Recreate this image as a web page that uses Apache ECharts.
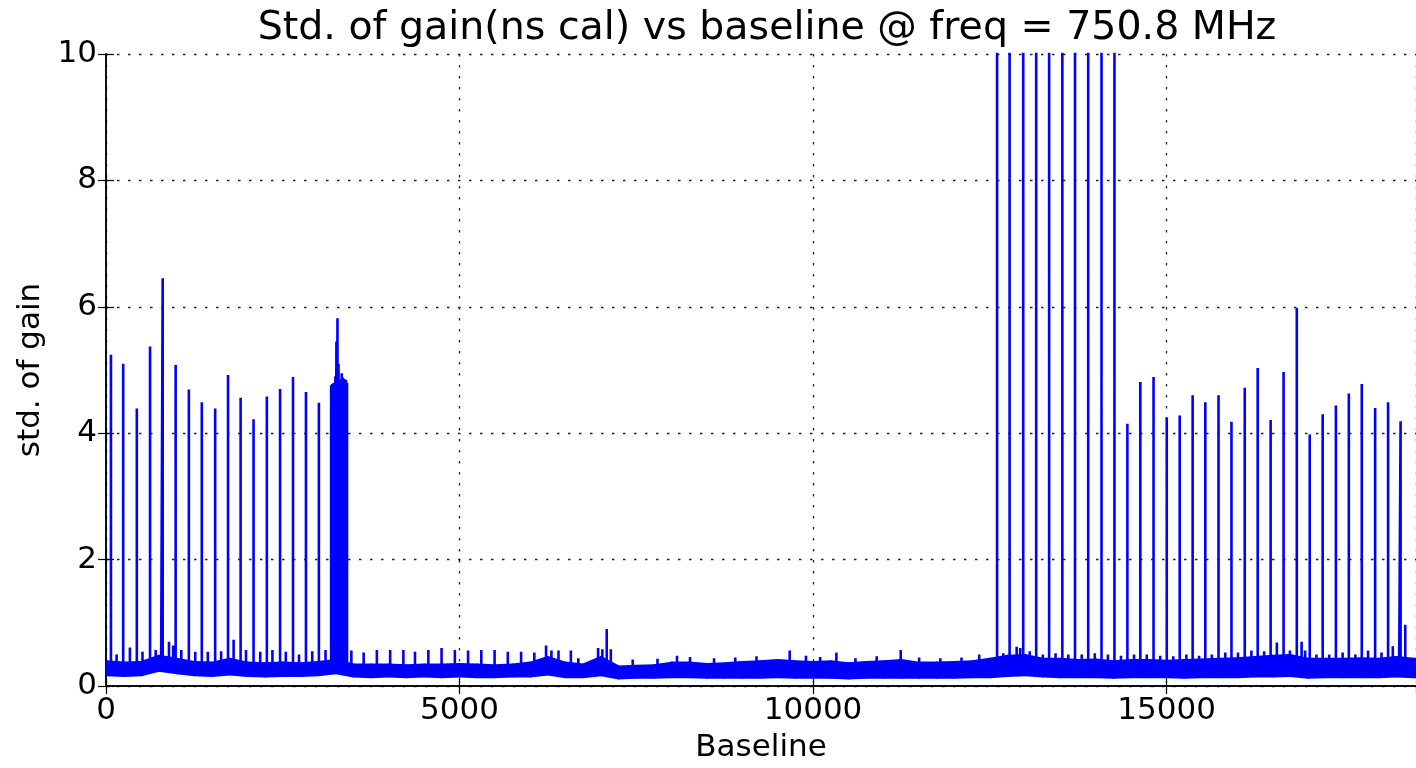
<!DOCTYPE html>
<html>
<head>
<meta charset="utf-8">
<script src="https://cdn.jsdelivr.net/npm/echarts@6.0.0/dist/echarts.min.js"></script>
<style>
  html, body { margin: 0; padding: 0; background: #fff; }
  #chart { width: 1416px; height: 768px; }
</style>
</head>
<body>
<div id="chart"></div>
<script>
// ---- labels ----
const titleText = 'Std. of gain(ns cal) vs baseline @ freq = 750.8 MHz';
const xName = 'Baseline';
const yName = 'std. of gain';
const baselineCount = 18528;
const xTickStep = 5000;
const yTickStep = 2;
const yTop = 10;

// ---- noise floor envelope, one sample every 250 baselines ----
const bandStep = 250;
const bandLow = [
  0.17, 0.16, 0.17, 0.24, 0.20, 0.17, 0.16, 0.18, 0.16, 0.15,
  0.16, 0.16, 0.17, 0.20, 0.15, 0.14, 0.15, 0.14, 0.15, 0.14,
  0.15, 0.14, 0.14, 0.15, 0.15, 0.18, 0.14, 0.14, 0.17, 0.12,
  0.13, 0.13, 0.14, 0.14, 0.13, 0.13, 0.13, 0.13, 0.14, 0.13,
  0.13, 0.13, 0.12, 0.13, 0.13, 0.13, 0.13, 0.13, 0.13, 0.14,
  0.14, 0.16, 0.17, 0.15, 0.14, 0.14, 0.14, 0.13, 0.14, 0.14,
  0.14, 0.13, 0.14, 0.14, 0.14, 0.15, 0.15, 0.16, 0.13, 0.14,
  0.14, 0.14, 0.14, 0.15, 0.14, 0.14
];
const bandHigh = [
  0.39, 0.37, 0.38, 0.48, 0.43, 0.38, 0.37, 0.43, 0.37, 0.36,
  0.37, 0.36, 0.38, 0.41, 0.34, 0.34, 0.34, 0.33, 0.34, 0.34,
  0.35, 0.34, 0.33, 0.34, 0.37, 0.46, 0.37, 0.34, 0.46, 0.31,
  0.32, 0.33, 0.37, 0.37, 0.35, 0.36, 0.38, 0.39, 0.41, 0.39,
  0.38, 0.39, 0.36, 0.38, 0.39, 0.41, 0.37, 0.37, 0.38, 0.39,
  0.43, 0.48, 0.49, 0.43, 0.43, 0.41, 0.42, 0.39, 0.41, 0.41,
  0.40, 0.41, 0.42, 0.43, 0.44, 0.46, 0.48, 0.49, 0.43, 0.43,
  0.43, 0.44, 0.43, 0.46, 0.43, 0.43
];

// ---- large spikes (those above the frame run off the top) ----
const spikeX = [
  70, 243, 436, 623, 802, 985, 1172, 1355, 1544, 1726, 1904, 2087, 2275, 2462, 2645, 2828, 3011,
  12603, 12780, 12973, 13156, 13339, 13526, 13705, 13892, 14080, 14263,
  14446, 14629, 14816, 15003, 15186, 15369, 15548, 15735, 15918, 16106, 16289,
  16472, 16655, 16842, 17025, 17208, 17395, 17578, 17761, 17950, 18133, 18310, 18376
];
const spikeY = [
  5.24, 5.10, 4.39, 5.37, 6.45, 5.08, 4.69, 4.49, 4.39, 4.92, 4.56, 4.22, 4.58, 4.70, 4.89, 4.65, 4.48,
  12, 12, 12, 12, 12, 12, 12, 12, 12, 12,
  4.15, 4.81, 4.89, 4.25, 4.28, 4.60, 4.49, 4.60, 4.18, 4.72, 5.03,
  4.21, 4.97, 5.98, 3.98, 4.30, 4.44, 4.63, 4.78, 4.40, 4.49, 4.19, 0.97
];

// ---- dense burst near baseline 3300 ----
const burstX = [3184, 3199, 3214, 3229, 3244, 3259, 3274, 3289, 3304, 3319, 3334, 3349, 3364, 3379, 3394, 3409];
const burstY = [4.76, 4.78, 4.79, 4.80, 4.90, 5.45, 5.82, 5.10, 4.82, 4.85, 4.95, 4.88, 4.86, 4.85, 4.84, 4.80];

// ---- small excursions above the noise floor ----
const bumpX = [
  150, 338, 516, 703, 780, 891, 950, 1065, 1262, 1440, 1628, 1805, 1980, 2181, 2354, 2543, 2730, 2917, 3105,
  3470, 3644, 3831, 4019, 4206, 4370, 4559, 4746, 4934, 5121, 5308, 5496, 5683, 5871, 6058,
  6224, 6300, 6400, 6575, 6680, 6960, 7020, 7082, 7140, 7450, 7800, 8076, 8260, 8600, 8900,
  9200, 9670, 9900, 10100, 10330, 10600, 10900, 11240, 11500, 11800, 12100, 12350,
  12690, 12880, 12930, 13065, 13250, 13430, 13610, 13800, 13985, 14170, 14355, 14540, 14720,
  14910, 15095, 15280, 15460, 15640, 15830, 16010, 16200, 16380, 16560, 16745, 16910, 16960,
  17120, 17300, 17490, 17670, 17850, 18040, 18200, 18290
];
const bumpY = [
  0.50, 0.61, 0.54, 0.57, 0.62, 0.70, 0.64, 0.57, 0.54, 0.54, 0.55, 0.73, 0.57, 0.54, 0.57, 0.54, 0.50, 0.55, 0.57,
  0.56, 0.53, 0.57, 0.57, 0.57, 0.54, 0.57, 0.60, 0.57, 0.56, 0.57, 0.57, 0.54, 0.54, 0.53,
  0.64, 0.56, 0.56, 0.56, 0.44, 0.60, 0.58, 0.90, 0.58, 0.42, 0.43, 0.48, 0.46, 0.44, 0.45,
  0.47, 0.56, 0.48, 0.46, 0.53, 0.44, 0.47, 0.57, 0.45, 0.44, 0.45, 0.50,
  0.52, 0.62, 0.60, 0.55, 0.50, 0.52, 0.50, 0.50, 0.52, 0.50, 0.48, 0.50, 0.50,
  0.48, 0.47, 0.50, 0.48, 0.50, 0.53, 0.53, 0.56, 0.55, 0.69, 0.56, 0.70, 0.56,
  0.50, 0.50, 0.53, 0.50, 0.56, 0.53, 0.63, 0.63
];

// ---- build series data ----
const bandData = bandLow.map((lo, i) => [i * bandStep, lo, bandHigh[i]]);

function floorAt(x) {
  const i = Math.min(bandLow.length - 1, Math.round(x / bandStep));
  return (bandLow[i] + bandHigh[i]) / 2;
}

const peaks = [];
spikeX.forEach((x, i) => peaks.push([x, spikeY[i]]));
burstX.forEach((x, i) => peaks.push([x, burstY[i]]));
bumpX.forEach((x, i) => peaks.push([x, bumpY[i]]));
peaks.sort((a, b) => a[0] - b[0]);

const peakLine = [[0, floorAt(0)]];
peaks.forEach(([x, h]) => {
  const f = floorAt(x);
  peakLine.push([x, f], [x, h], [x, f]);
});
peakLine.push([baselineCount, floorAt(baselineCount)]);

// ---- chart ----
const FONT = 'DejaVu Sans';
const BLUE = '#0000ff';
const chart = echarts.init(document.getElementById('chart'), null, { renderer: 'canvas' });

const frameLine = { show: true, lineStyle: { color: '#000', width: 1.5 } };
const innerTick = { show: true, inside: true, length: 8, lineStyle: { color: '#000', width: 1.2 } };
const dotted = { show: true, lineStyle: { color: '#222', width: 1.3, type: [2.5, 8.5] } };
const plainNumber = v => String(v);

// noise floor: one filled quad between neighbouring envelope samples
function renderBand(params, api) {
  const i = params.dataIndex;
  if (i >= bandData.length - 1) return null;
  const a = bandData[i], b = bandData[i + 1];
  const pts = [
    api.coord([a[0], a[1]]), api.coord([b[0], b[1]]),
    api.coord([b[0], b[2]]), api.coord([a[0], a[2]])
  ];
  return {
    type: 'polygon',
    shape: { points: pts },
    style: { fill: BLUE, stroke: BLUE, lineWidth: 2, lineJoin: 'round' },
    silent: true
  };
}

chart.setOption({
  animation: false,
  backgroundColor: '#fff',
  title: {
    text: titleText,
    left: 767,
    top: 9,
    padding: 0,
    textAlign: 'center',
    textStyle: { fontFamily: FONT, fontSize: 39.5, fontWeight: 'normal', color: '#000' }
  },
  grid: { left: 106, top: 54, width: 1317, height: 633, containLabel: false },
  xAxis: [
    {
      type: 'value', min: 0, max: baselineCount, interval: xTickStep,
      axisLine: frameLine, axisTick: innerTick, splitLine: dotted,
      axisLabel: { color: '#000', fontFamily: FONT, fontSize: 31, margin: 9, showMaxLabel: false, formatter: plainNumber },
      name: xName, nameLocation: 'middle', nameGap: 46,
      nameTextStyle: { color: '#000', fontFamily: FONT, fontSize: 31 }
    },
    {
      type: 'value', position: 'top', min: 0, max: baselineCount, interval: xTickStep,
      axisLine: frameLine, axisTick: innerTick, axisLabel: { show: false }, splitLine: { show: false }
    }
  ],
  yAxis: [
    {
      type: 'value', min: 0, max: yTop, interval: yTickStep,
      axisLine: frameLine, axisTick: innerTick, splitLine: dotted,
      axisLabel: { color: '#000', fontFamily: FONT, fontSize: 31, margin: 9, formatter: plainNumber },
      name: yName, nameLocation: 'middle', nameGap: 58, nameRotate: 90,
      nameTextStyle: { color: '#000', fontFamily: FONT, fontSize: 31 }
    },
    {
      type: 'value', position: 'right', min: 0, max: yTop, interval: yTickStep,
      axisLine: frameLine, axisTick: innerTick, axisLabel: { show: false }, splitLine: { show: false }
    }
  ],
  series: [
    {
      name: 'noise floor', type: 'custom', data: bandData,
      encode: { x: 0, y: [1, 2] },
      renderItem: renderBand, clip: true, silent: true
    },
    {
      name: 'std. of gain', type: 'line', data: peakLine,
      showSymbol: false, symbol: 'none', silent: true, clip: true,
      lineStyle: { color: BLUE, width: 2.6 }
    }
  ]
});
</script>
</body>
</html>
